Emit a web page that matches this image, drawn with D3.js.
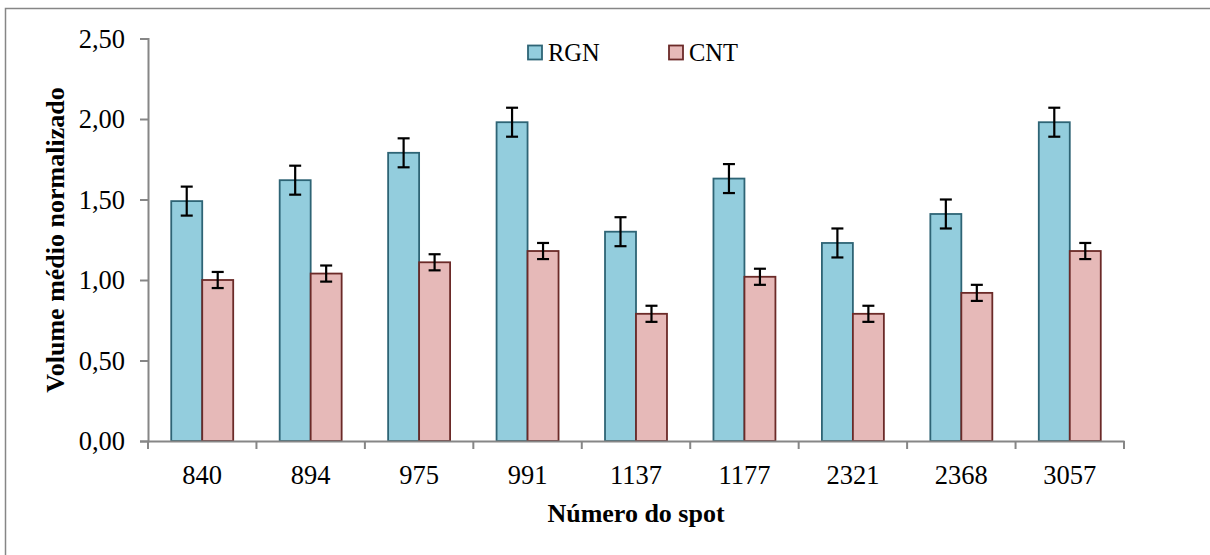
<!DOCTYPE html>
<html>
<head>
<meta charset="utf-8">
<script src="https://cdn.jsdelivr.net/npm/d3@7"></script>
<style>
  html, body { margin: 0; padding: 0; background: #fff; }
  svg { display: block; }
  text { font-family: "Liberation Serif", "Times New Roman", serif; fill: #000; }
</style>
</head>
<body>
<svg id="chart" width="1210" height="555"></svg>
<script>
// Spot numbers on the x axis
const spots = ["840", "894", "975", "991", "1137", "1177", "2321", "2368", "3057"];
// Mean normalized volume per group
const rgnValues = [1.49, 1.62, 1.79, 1.98, 1.30, 1.63, 1.23, 1.41, 1.98];
const cntValues = [1.00, 1.04, 1.11, 1.18, 0.79, 1.02, 0.79, 0.92, 1.18];
// Error bar half-widths
const rgnErrors = [0.09, 0.09, 0.09, 0.09, 0.09, 0.09, 0.09, 0.09, 0.09];
const cntErrors = [0.05, 0.05, 0.05, 0.05, 0.05, 0.05, 0.05, 0.05, 0.05];
// Y axis ticks
const yTicks = [0, 0.5, 1.0, 1.5, 2.0, 2.5];
const seriesNames = ["RGN", "CNT"];

const svg = d3.select("#chart");
const plotLeft = 148, plotRight = 1124, plotTop = 38.5, plotBottom = 441;

// Outer chart frame (right/bottom run past the canvas edge)
svg.append("rect")
  .attr("x", 5.5).attr("y", 8.5).attr("width", 1220).attr("height", 560)
  .attr("fill", "none").attr("stroke", "#868686").attr("stroke-width", 1.5);

const x = d3.scaleBand().domain(spots).range([plotLeft, plotRight]).paddingInner(0).paddingOuter(0);
const inner = d3.scaleBand().domain(seriesNames).range([0, x.bandwidth()]).paddingInner(0).paddingOuter(0.75);
const y = d3.scaleLinear().domain([0, 2.5]).range([plotBottom, plotTop]);

const fmt = v => d3.format(".2f")(v).replace(".", ",");

// Y axis
const yAxis = svg.append("g").attr("transform", `translate(${plotLeft},0)`)
  .call(d3.axisLeft(y).tickValues(yTicks).tickFormat(fmt).tickSize(8).tickPadding(15));
yAxis.select(".domain").attr("stroke", "#868686").attr("stroke-width", 2);
yAxis.selectAll(".tick line").attr("stroke", "#868686").attr("stroke-width", 2);
yAxis.selectAll(".tick text").attr("font-size", 26.5).attr("font-family", "Liberation Serif").attr("fill", "#000").attr("dy", "0.33em");

// Bars
const groups = [
  { name: "RGN", values: rgnValues, errors: rgnErrors, fill: "#93CDDD", stroke: "#2E6475" },
  { name: "CNT", values: cntValues, errors: cntErrors, fill: "#E6B9B8", stroke: "#6B2A28" }
];

groups.forEach(g => {
  const sel = svg.append("g");
  sel.selectAll("rect").data(spots).join("rect")
    .attr("x", d => x(d) + inner(g.name))
    .attr("y", (d, i) => y(g.values[i]))
    .attr("width", inner.bandwidth())
    .attr("height", (d, i) => y(0) - y(g.values[i]))
    .attr("fill", g.fill).attr("stroke", g.stroke).attr("stroke-width", 1.8);
});

// X axis (drawn after bars so the baseline sits on top)
const xAxis = svg.append("g").attr("transform", `translate(0,${plotBottom})`)
  .call(d3.axisBottom(x).tickSize(0).tickPadding(24));
xAxis.select(".domain").attr("stroke", "#868686").attr("stroke-width", 2);
xAxis.selectAll(".tick text").attr("font-size", 26.5).attr("font-family", "Liberation Serif").attr("fill", "#000");
// Category separators
svg.append("g").selectAll("line").data(spots.concat(["end"])).join("line")
  .attr("x1", (d, i) => plotLeft + i * x.step()).attr("x2", (d, i) => plotLeft + i * x.step())
  .attr("y1", plotBottom).attr("y2", plotBottom + 8)
  .attr("stroke", "#868686").attr("stroke-width", 2);

// Error bars
groups.forEach(g => {
  const eg = svg.append("g").attr("stroke", "#000").attr("stroke-width", 2.2);
  spots.forEach((s, i) => {
    const cx = x(s) + inner(g.name) + inner.bandwidth() / 2;
    const y1 = y(g.values[i] + g.errors[i]), y2 = y(g.values[i] - g.errors[i]);
    eg.append("line").attr("x1", cx).attr("x2", cx).attr("y1", y1).attr("y2", y2);
    eg.append("line").attr("x1", cx - 6).attr("x2", cx + 6).attr("y1", y1).attr("y2", y1);
    eg.append("line").attr("x1", cx - 6).attr("x2", cx + 6).attr("y1", y2).attr("y2", y2);
  });
});

// Legend
const legendX = [528, 669];
groups.forEach((g, i) => {
  const lg = svg.append("g").attr("transform", `translate(${legendX[i]},45.5)`);
  lg.append("rect").attr("width", 14).attr("height", 14)
    .attr("fill", g.fill).attr("stroke", g.stroke).attr("stroke-width", 1.8);
  lg.append("text").attr("x", 20).attr("y", 15).attr("font-size", 24.5).text(g.name);
});

// Axis titles
svg.append("text").attr("x", 636).attr("y", 522).attr("text-anchor", "middle")
  .attr("font-size", 26).attr("font-weight", "bold").text("Número do spot");
svg.append("text").attr("transform", "translate(64,240) rotate(-90)").attr("text-anchor", "middle")
  .attr("font-size", 26).attr("font-weight", "bold").text("Volume médio normalizado");
</script>
</body>
</html>
